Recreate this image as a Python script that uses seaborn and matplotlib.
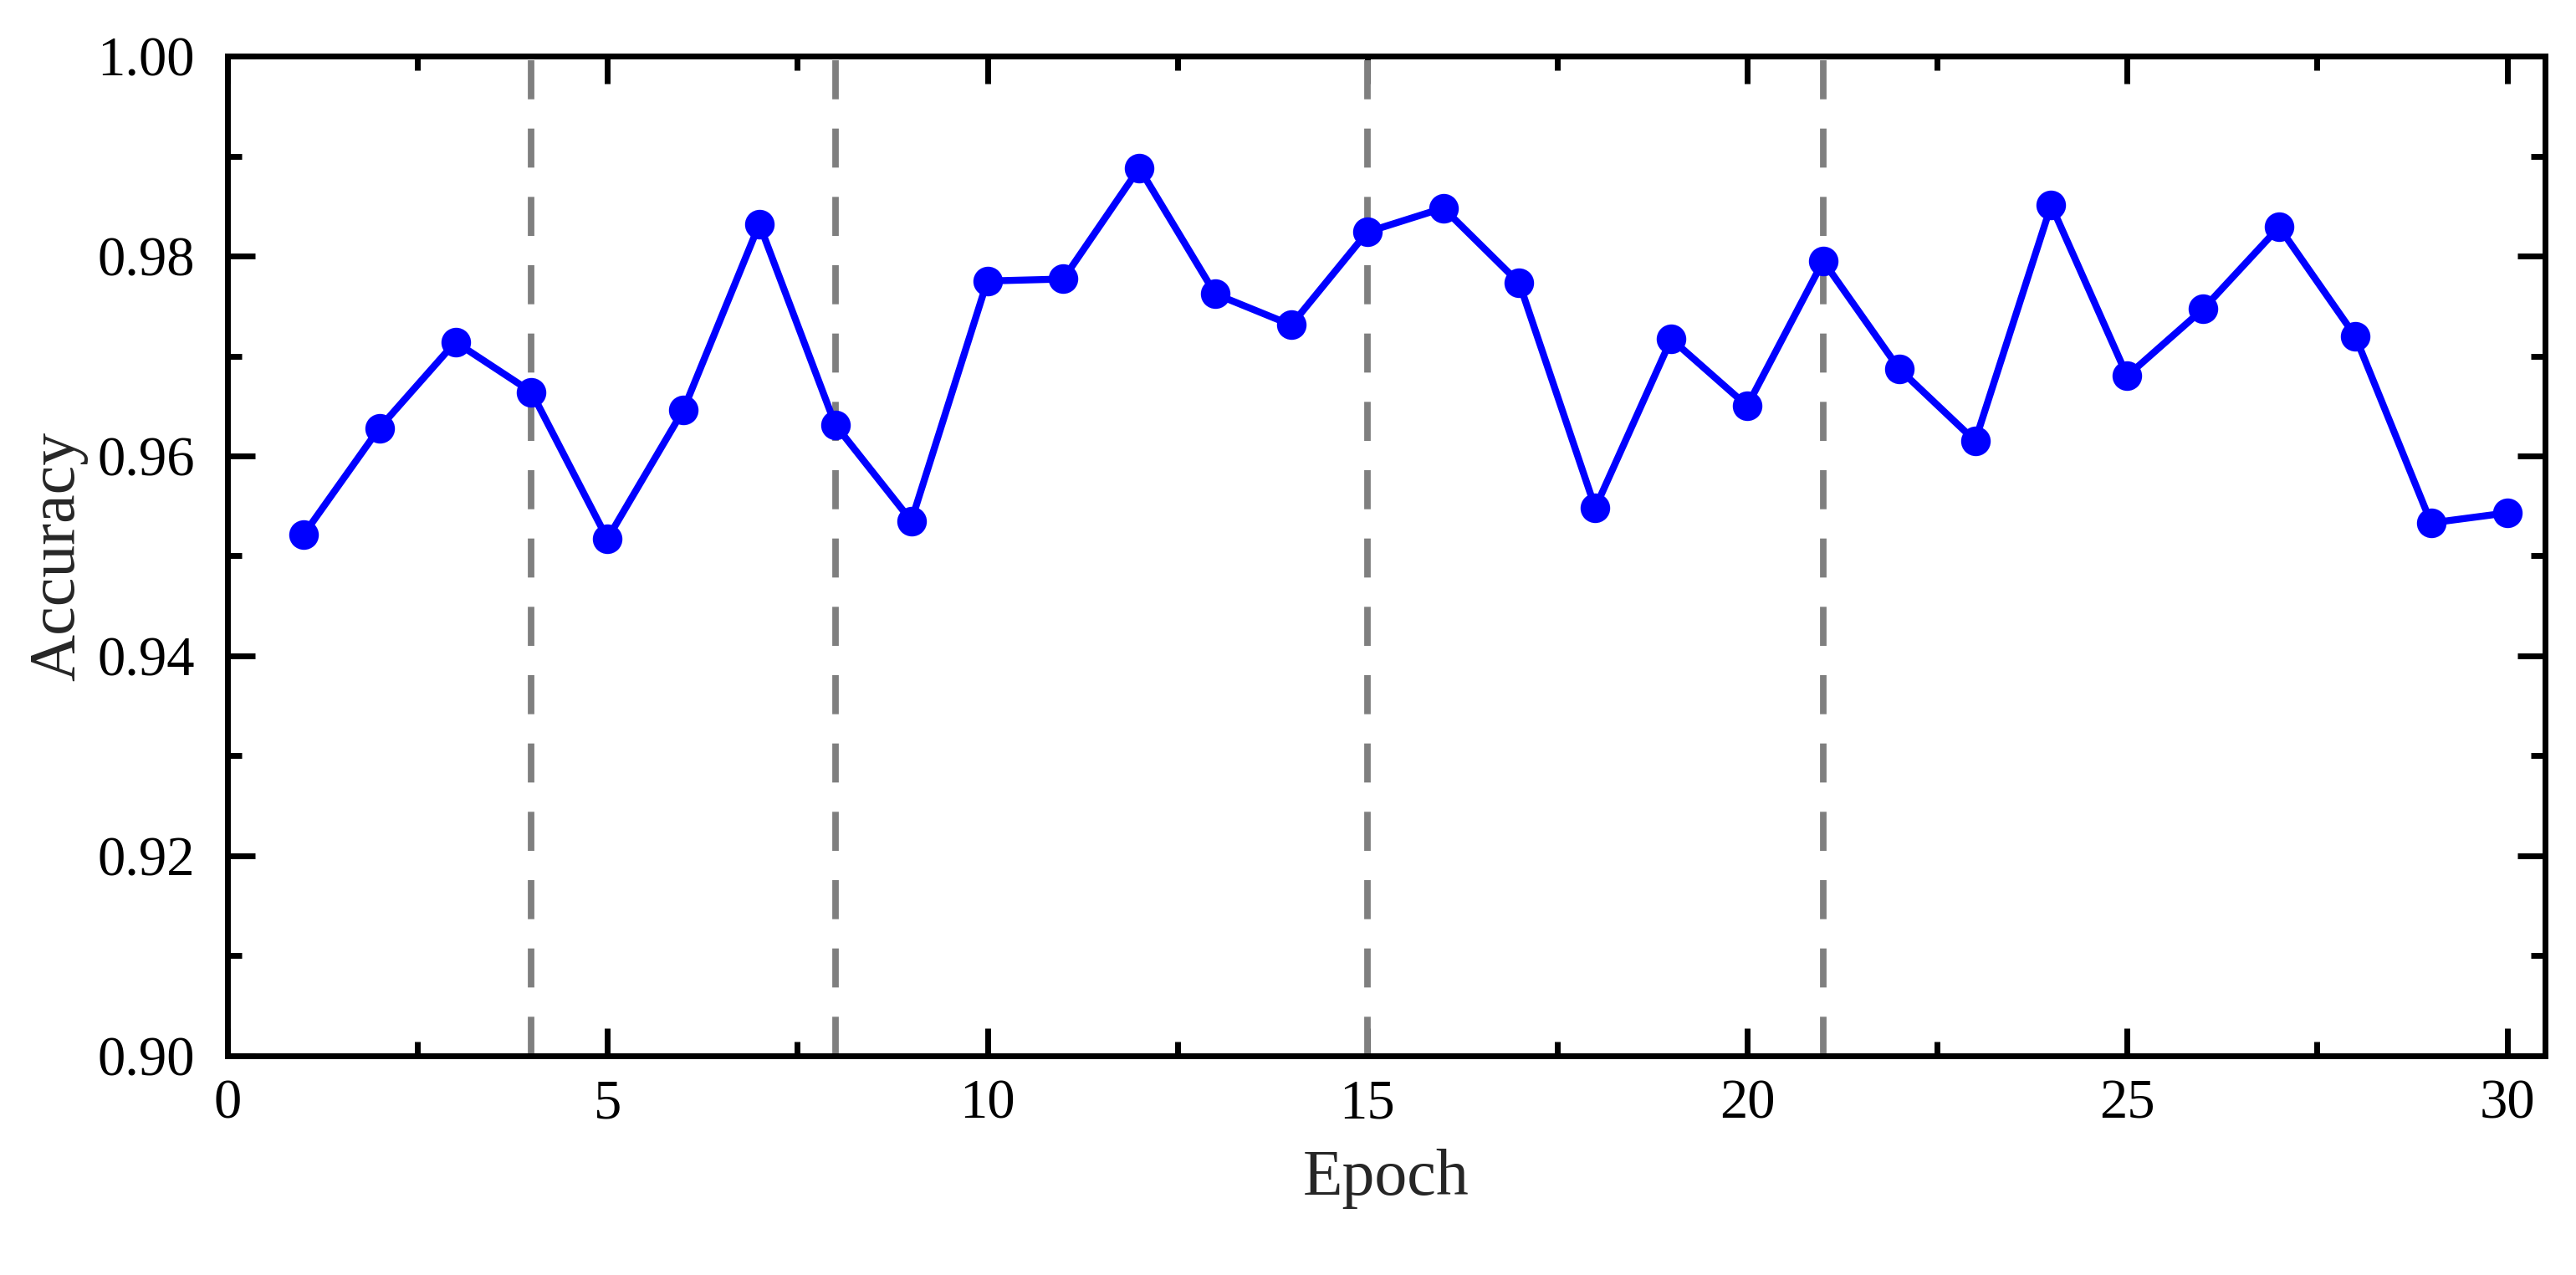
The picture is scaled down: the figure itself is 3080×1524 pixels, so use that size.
import numpy as np
import pandas as pd
import matplotlib
matplotlib.use('Agg')
import matplotlib.pyplot as plt
from matplotlib.ticker import MultipleLocator, FormatStrFormatter
import seaborn as sns

# --- Data ---
epochs = list(range(1, 31))
accuracy = [0.9521, 0.9628, 0.9714, 0.9664, 0.9517, 0.9646, 0.9832, 0.9631, 0.9535, 0.9775,
            0.9777, 0.9888, 0.9762, 0.9731, 0.9824, 0.9848, 0.9773, 0.9548, 0.9717, 0.9650,
            0.9795, 0.9687, 0.9615, 0.9851, 0.9680, 0.9747, 0.9829, 0.9720, 0.9533, 0.9543]
split_epochs = [4, 8, 15, 21]

df = pd.DataFrame({'Epoch': epochs, 'Accuracy': accuracy})

# --- Style ---
sns.set_theme(style='ticks')
plt.rcParams['font.family'] = ['Liberation Serif', 'DejaVu Serif']

fig = plt.figure(figsize=(15.4, 7.62), dpi=200)
ax = fig.add_axes([0.0883, 0.172, 0.8997, 0.784])

# gray dashed separators
for e in split_epochs:
    ax.axvline(e, color='#7f7f7f', lw=2.8, dashes=(6, 4.5), zorder=1)

sns.lineplot(data=df, x='Epoch', y='Accuracy', ax=ax, color='#0000ff', linewidth=3,
             marker='o', markersize=12, markeredgecolor='#0000ff', zorder=3)

ax.set_xlim(0, 30.5)
ax.set_ylim(0.90, 1.00)
ax.xaxis.set_major_locator(MultipleLocator(5))
ax.xaxis.set_minor_locator(MultipleLocator(2.5))
ax.yaxis.set_major_locator(MultipleLocator(0.02))
ax.yaxis.set_minor_locator(MultipleLocator(0.01))
ax.yaxis.set_major_formatter(FormatStrFormatter('%.2f'))

ax.tick_params(which='both', direction='in', top=True, right=True, width=2.5, colors='black',
               labelsize=24)
ax.tick_params(which='major', length=12)
ax.tick_params(which='minor', length=6)
ax.tick_params(axis='x', which='major', pad=10)
ax.tick_params(axis='y', which='major', pad=14)
for s in ax.spines.values():
    s.set_linewidth(2.5)
    s.set_color('black')

ax.set_xlabel('Epoch', fontsize=28, labelpad=8)
ax.set_ylabel('Accuracy', fontsize=28, labelpad=4)

fig.savefig('out.png', dpi=200)
